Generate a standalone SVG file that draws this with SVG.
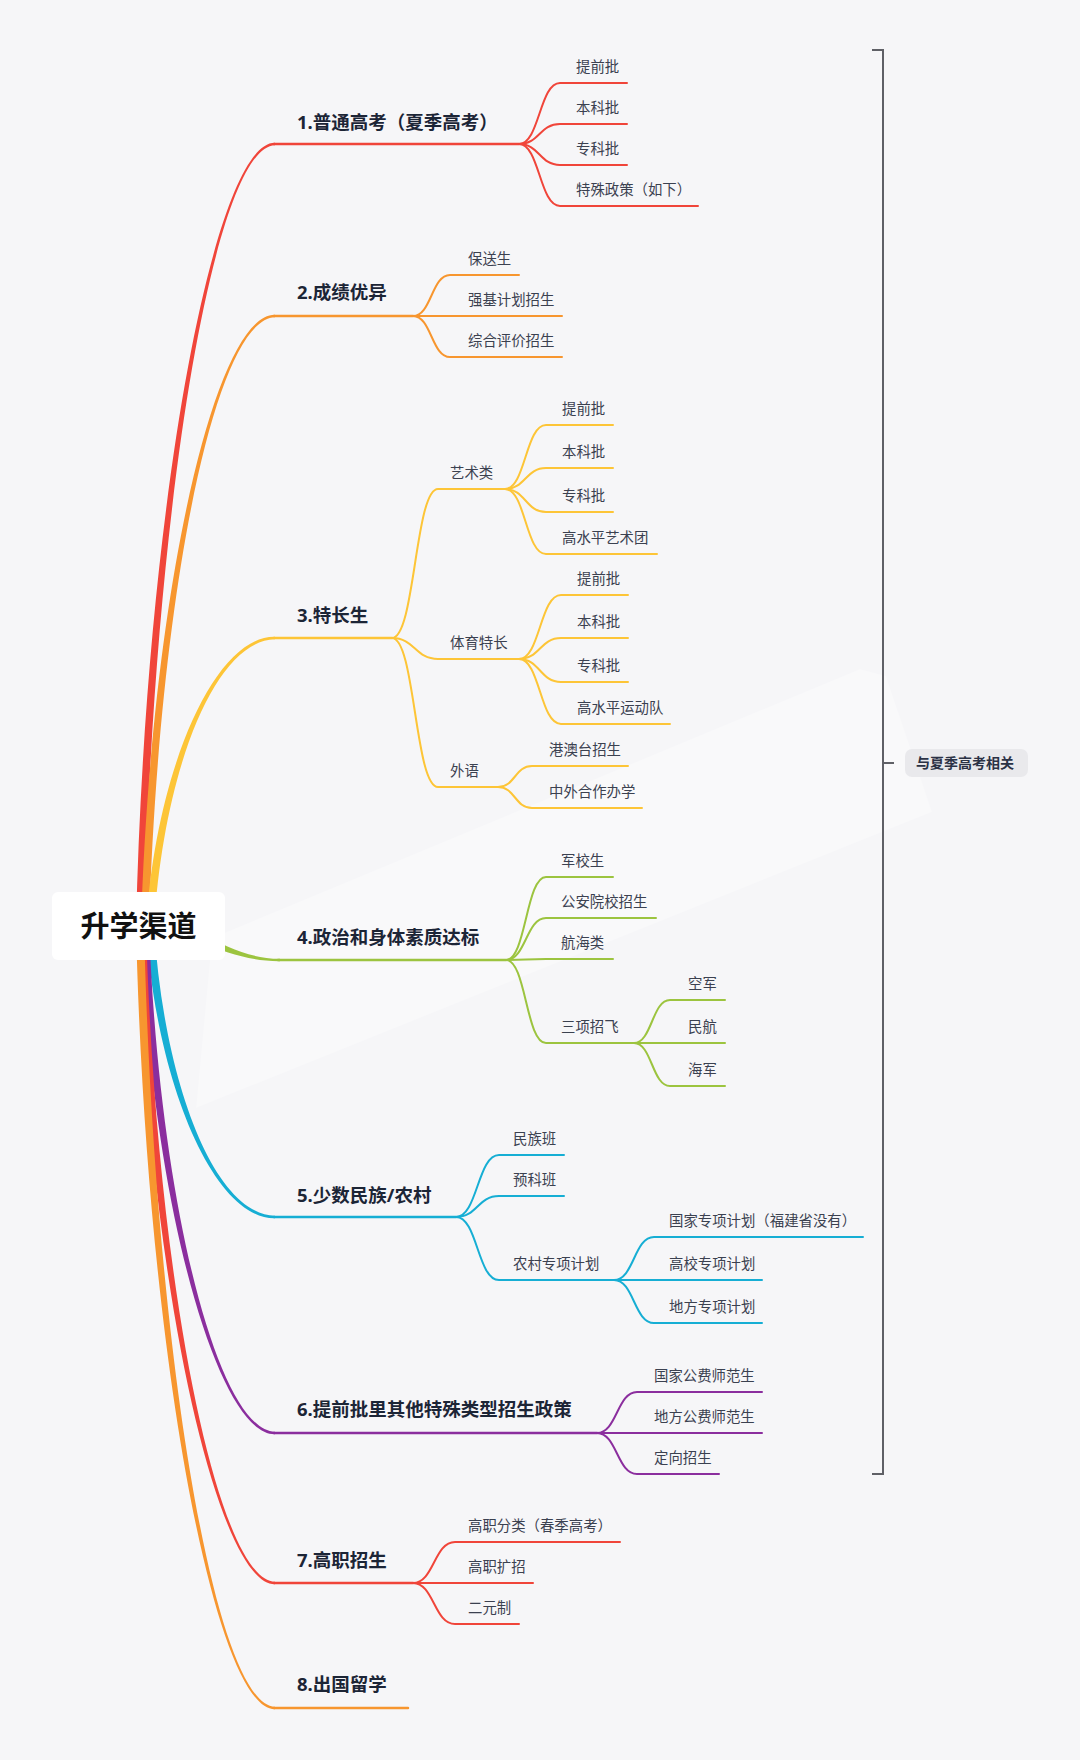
<svg xmlns="http://www.w3.org/2000/svg" width="1080" height="1760" viewBox="0 0 1080 1760">
<style>
.ln{fill:none;stroke-width:2;stroke-linecap:round}
.mb{fill:none;stroke-width:2.5;stroke-linecap:round}
.red{stroke:#f0453a}.redf{fill:#f0453a}
.org{stroke:#f7962f}.orgf{fill:#f7962f}
.yel{stroke:#fdc537}.yelf{fill:#fdc537}
.grn{stroke:#9cc43f}.grnf{fill:#9cc43f}
.blu{stroke:#16aed4}.bluf{fill:#16aed4}
.pur{stroke:#8b2e9e}.purf{fill:#8b2e9e}
.main{font-family:"Noto Sans","Noto Sans CJK SC",sans-serif;font-size:18.5px;font-weight:700;fill:#1c2536}
.sub{font-family:"Noto Sans","Noto Sans CJK SC",sans-serif;font-size:14.4px;fill:#3b4150}
.root{font-family:"Noto Sans","Noto Sans CJK SC",sans-serif;font-size:29px;font-weight:700;fill:#111111}
.lab{font-family:"Noto Sans","Noto Sans CJK SC",sans-serif;font-size:14px;font-weight:700;fill:#2b3245}
</style>
<rect x="0" y="0" width="1080" height="1760" fill="#f6f6f8"/>
<polygon points="212,938 860,669 886,676 932,812 196,1108" fill="#ffffff" opacity="0.3"/>

<g id="connectors">
  <!-- trunks -->
  <path class="redf" d="M136 926 C146 500 215 141.5 275 142.8 L275 145.2 C215 146.5 154 500 144 926 Z"/>
  <path class="orgf" d="M141 926 C151 594 215 313.5 275 314.8 L275 317.2 C215 318.5 159 594 149 926 Z"/>
  <path class="yelf" d="M146 926 C156 769 215 635.5 275 636.8 L275 639.2 C215 640.5 164 769 154 926 Z"/>
  <path class="grnf" d="M139 920 C200 920 225 958.5 280 958.8 L280 961.2 C225 961.5 200 932 139 932 Z"/>
  <path class="bluf" d="M146 926 C156 1085 215 1219.5 275 1218.2 L275 1215.8 C215 1214.5 164 1085 154 926 Z"/>
  <path class="purf" d="M141 926 C151 1202 218 1435.5 275 1434.2 L275 1431.8 C218 1430.5 159 1202 149 926 Z"/>
  <path class="redf" d="M138 926 C148 1284 218 1585.5 275 1584.2 L275 1581.8 C218 1580.5 156 1284 146 926 Z"/>
  <path class="orgf" d="M136 926 C146 1352 215 1710.5 275 1709.2 L275 1706.8 C215 1705.5 154 1352 144 926 Z"/>

  <!-- main branch lines -->
  <path class="mb red" d="M274 144 H519"/>
  <path class="mb org" d="M274 316 H413"/>
  <path class="mb yel" d="M274 638 H392"/>
  <path class="mb grn" d="M278 960 H506"/>
  <path class="mb blu" d="M274 1217 H456"/>
  <path class="mb pur" d="M274 1433 H597"/>
  <path class="mb red" d="M274 1583 H413"/>
  <path class="mb org" d="M274 1708 H408"/>

  <!-- 1 children -->
  <path class="ln red" d="M519 144 C539.5 144 539.5 83 560 83 H627"/>
  <path class="ln red" d="M519 144 C539.5 144 539.5 124 560 124 H627"/>
  <path class="ln red" d="M519 144 C539.5 144 539.5 165 560 165 H627"/>
  <path class="ln red" d="M519 144 C539.5 144 539.5 206 560 206 H698"/>

  <!-- 2 children -->
  <path class="ln org" d="M413 316 C431.5 316 431.5 275 450 275 H519"/>
  <path class="ln org" d="M413 316 H562"/>
  <path class="ln org" d="M413 316 C431.5 316 431.5 357 450 357 H562"/>

  <!-- 3 children -->
  <path class="ln yel" d="M392 638 C415 638 415 489 438 489 H505"/>
  <path class="ln yel" d="M392 638 C415 638 415 659 438 659 H519"/>
  <path class="ln yel" d="M392 638 C415 638 415 787 438 787 H498"/>
  <path class="ln yel" d="M505 489 C525.5 489 525.5 425 546 425 H613"/>
  <path class="ln yel" d="M505 489 C525.5 489 525.5 468 546 468 H613"/>
  <path class="ln yel" d="M505 489 C525.5 489 525.5 512 546 512 H613"/>
  <path class="ln yel" d="M505 489 C525.5 489 525.5 554 546 554 H657"/>
  <path class="ln yel" d="M519 659 C540 659 540 595 561 595 H628"/>
  <path class="ln yel" d="M519 659 C540 659 540 638 561 638 H628"/>
  <path class="ln yel" d="M519 659 C540 659 540 682 561 682 H628"/>
  <path class="ln yel" d="M519 659 C540 659 540 724 561 724 H670"/>
  <path class="ln yel" d="M498 787 C515 787 515 766 532 766 H628"/>
  <path class="ln yel" d="M498 787 C515 787 515 808 532 808 H642"/>

  <!-- 4 children -->
  <path class="ln grn" d="M506 960 C526 960 526 877 546 877 H613"/>
  <path class="ln grn" d="M506 960 C526 960 526 918 546 918 H656"/>
  <path class="ln grn" d="M506 960 C526 960 526 959 546 959 H613"/>
  <path class="ln grn" d="M506 960 C526 960 526 1043 546 1043 H634"/>
  <path class="ln grn" d="M634 1043 C652 1043 652 1000 670 1000 H725"/>
  <path class="ln grn" d="M634 1043 H725"/>
  <path class="ln grn" d="M634 1043 C652 1043 652 1086 670 1086 H725"/>

  <!-- 5 children -->
  <path class="ln blu" d="M456 1217 C477.5 1217 477.5 1155 499 1155 H564"/>
  <path class="ln blu" d="M456 1217 C477.5 1217 477.5 1196 499 1196 H564"/>
  <path class="ln blu" d="M456 1217 C477.5 1217 477.5 1280 499 1280 H614"/>
  <path class="ln blu" d="M614 1280 C634 1280 634 1237 654 1237 H863"/>
  <path class="ln blu" d="M614 1280 H762"/>
  <path class="ln blu" d="M614 1280 C634 1280 634 1323 654 1323 H762"/>

  <!-- 6 children -->
  <path class="ln pur" d="M597 1433 C617 1433 617 1392 637 1392 H762"/>
  <path class="ln pur" d="M597 1433 H762"/>
  <path class="ln pur" d="M597 1433 C617 1433 617 1474 637 1474 H719"/>

  <!-- 7 children -->
  <path class="ln red" d="M413 1583 C434 1583 434 1542 455 1542 H620"/>
  <path class="ln red" d="M413 1583 H533"/>
  <path class="ln red" d="M413 1583 C434 1583 434 1624 455 1624 H519"/>

  <!-- bracket -->
  <path d="M872 50 H883 V1474 H872 M883 763 H894" fill="none" stroke="#5f6066" stroke-width="2"/>
</g>

<g id="root">
  <rect x="52" y="892" width="173" height="68" rx="6" fill="#ffffff"/>
  <text class="root" x="138.5" y="936.5" text-anchor="middle">升学渠道</text>
</g>

<g id="n1"><text class="main" x="297" y="128.5">1.普通高考（夏季高考）</text></g>
<g id="n1-1"><text class="sub" x="576" y="72">提前批</text></g>
<g id="n1-2"><text class="sub" x="576" y="113">本科批</text></g>
<g id="n1-3"><text class="sub" x="576" y="154">专科批</text></g>
<g id="n1-4"><text class="sub" x="576" y="195">特殊政策（如下）</text></g>

<g id="n2"><text class="main" x="297" y="299">2.成绩优异</text></g>
<g id="n2-1"><text class="sub" x="468" y="264">保送生</text></g>
<g id="n2-2"><text class="sub" x="468" y="305">强基计划招生</text></g>
<g id="n2-3"><text class="sub" x="468" y="346">综合评价招生</text></g>

<g id="n3"><text class="main" x="297" y="621.5">3.特长生</text></g>
<g id="n3-1"><text class="sub" x="450" y="478">艺术类</text></g>
<g id="n3-1-1"><text class="sub" x="562" y="414">提前批</text></g>
<g id="n3-1-2"><text class="sub" x="562" y="457">本科批</text></g>
<g id="n3-1-3"><text class="sub" x="562" y="501">专科批</text></g>
<g id="n3-1-4"><text class="sub" x="562" y="543">高水平艺术团</text></g>
<g id="n3-2"><text class="sub" x="450" y="648">体育特长</text></g>
<g id="n3-2-1"><text class="sub" x="577" y="584">提前批</text></g>
<g id="n3-2-2"><text class="sub" x="577" y="627">本科批</text></g>
<g id="n3-2-3"><text class="sub" x="577" y="671">专科批</text></g>
<g id="n3-2-4"><text class="sub" x="577" y="713">高水平运动队</text></g>
<g id="n3-3"><text class="sub" x="450" y="776">外语</text></g>
<g id="n3-3-1"><text class="sub" x="549" y="755">港澳台招生</text></g>
<g id="n3-3-2"><text class="sub" x="549" y="797">中外合作办学</text></g>

<g id="n4"><text class="main" x="297" y="943.5">4.政治和身体素质达标</text></g>
<g id="n4-1"><text class="sub" x="561" y="866">军校生</text></g>
<g id="n4-2"><text class="sub" x="561" y="907">公安院校招生</text></g>
<g id="n4-3"><text class="sub" x="561" y="948">航海类</text></g>
<g id="n4-4"><text class="sub" x="561" y="1032">三项招飞</text></g>
<g id="n4-4-1"><text class="sub" x="688" y="989">空军</text></g>
<g id="n4-4-2"><text class="sub" x="688" y="1032">民航</text></g>
<g id="n4-4-3"><text class="sub" x="688" y="1075">海军</text></g>

<g id="n5"><text class="main" x="297" y="1201.5">5.少数民族/农村</text></g>
<g id="n5-1"><text class="sub" x="513" y="1144">民族班</text></g>
<g id="n5-2"><text class="sub" x="513" y="1185">预科班</text></g>
<g id="n5-3"><text class="sub" x="513" y="1269">农村专项计划</text></g>
<g id="n5-3-1"><text class="sub" x="669" y="1226">国家专项计划（福建省没有）</text></g>
<g id="n5-3-2"><text class="sub" x="669" y="1269">高校专项计划</text></g>
<g id="n5-3-3"><text class="sub" x="669" y="1312">地方专项计划</text></g>

<g id="n6"><text class="main" x="297" y="1415.5">6.提前批里其他特殊类型招生政策</text></g>
<g id="n6-1"><text class="sub" x="654" y="1381">国家公费师范生</text></g>
<g id="n6-2"><text class="sub" x="654" y="1422">地方公费师范生</text></g>
<g id="n6-3"><text class="sub" x="654" y="1463">定向招生</text></g>

<g id="n7"><text class="main" x="297" y="1566.5">7.高职招生</text></g>
<g id="n7-1"><text class="sub" x="468" y="1531">高职分类（春季高考）</text></g>
<g id="n7-2"><text class="sub" x="468" y="1572">高职扩招</text></g>
<g id="n7-3"><text class="sub" x="468" y="1613">二元制</text></g>

<g id="n8"><text class="main" x="297" y="1690.5">8.出国留学</text></g>

<g id="summary">
  <rect x="905" y="749" width="123" height="28" rx="7" fill="#e9e9ec"/>
  <text class="lab" x="916" y="768">与夏季高考相关</text>
</g>
</svg>
